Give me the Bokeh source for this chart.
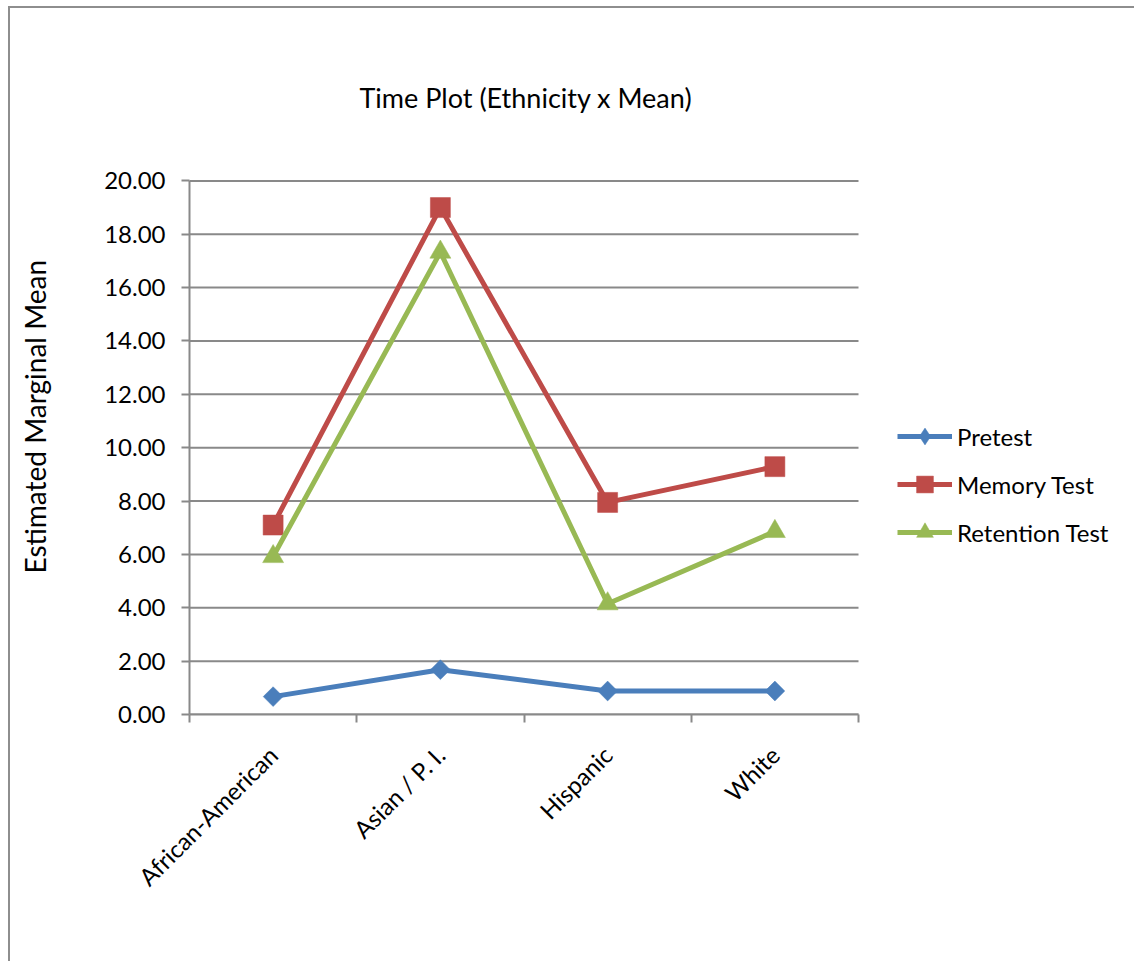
import math
from bokeh.plotting import figure
from bokeh.models import (Range1d, FixedTicker, PrintfTickFormatter, Legend, LegendItem,
                          Title, InlineStyleSheet)
from bokeh.embed import file_html
from bokeh.resources import INLINE

# Estimated marginal means by ethnicity for each test occasion
categories = ["African-American", "Asian / P. I.", "Hispanic", "White"]
pretest = [0.67, 1.68, 0.88, 0.88]
memory_test = [7.10, 19.00, 7.95, 9.29]
retention_test = [5.92, 17.33, 4.15, 6.86]
y_ticks = [0, 2, 4, 6, 8, 10, 12, 14, 16, 18, 20]

FONT = "Lato"
GRAY = "#898989"
BLUE = "#4a7ebb"
RED = "#be4b48"
GREEN = "#98b954"

# layout (page pixels): plot area starts 189 px from the left edge and spans 669 px for
# the categories; the frame keeps going to the right edge so the legend can sit beside it.
# The canvas is drawn a little wider and slid left so the y-axis title gets its room.
W, H = 1134, 961
LEFT, TOP, BOTTOM = 189, 178, 247
SHIFT = 51
CAT_W = 669
n = len(categories)
x_end = n * (W - LEFT) / CAT_W
y_max = y_ticks[-1]
y_end = y_max + 0.09   # a little headroom so the top gridline is not clipped

xs = [i + 0.5 for i in range(n)]

p = figure(width=W + SHIFT, height=H, output_backend="svg", toolbar_location=None,
           x_range=Range1d(0, x_end), y_range=Range1d(0, y_end),
           min_border_left=LEFT + SHIFT, min_border_right=0,
           min_border_top=TOP, min_border_bottom=BOTTOM,
           background_fill_color="white", border_fill_color="white")
p.outline_line_color = None

# slide the canvas and draw the thin frame around the whole chart area
p.stylesheets = [InlineStyleSheet(css=f"""
:host {{ position: relative; left: -{SHIFT}px; }}
:host::after {{
  content: ''; position: absolute; left: {SHIFT + 8}px; top: 6px; right: 0; bottom: 0;
  border-left: 2px solid #8e8e8e; border-top: 2px solid #8e8e8e;
  pointer-events: none;
}}
""")]

# chart title
p.title = Title(text="Time Plot (Ethnicity x Mean)", align="left", offset=170,
                text_font=FONT, text_font_size="27px", text_font_style="normal",
                text_color="black", standoff=130)

# horizontal gridlines limited to the category span
p.segment(x0=0, x1=n, y0=y_ticks, y1=y_ticks, line_color=GRAY, line_width=2, level="underlay")
p.xgrid.grid_line_color = None
p.ygrid.grid_line_color = None

# y axis
p.yaxis.bounds = (0, y_max)
p.yaxis.ticker = FixedTicker(ticks=y_ticks, minor_ticks=[])
p.yaxis.formatter = PrintfTickFormatter(format="%.2f")
p.yaxis.axis_line_color = GRAY
p.yaxis.axis_line_width = 2
p.yaxis.major_tick_line_color = GRAY
p.yaxis.major_tick_line_width = 2
p.yaxis.major_tick_in = 0
p.yaxis.major_tick_out = 8
p.yaxis.minor_tick_line_color = None
p.yaxis.major_label_standoff = 16
p.yaxis.major_label_text_font = FONT
p.yaxis.major_label_text_font_size = "24px"
p.yaxis.major_label_text_color = "black"

p.add_layout(Title(text="Estimated Marginal Mean", align="left", offset=141,
                   text_font=FONT, text_font_size="28px", text_font_style="normal",
                   text_color="black", standoff=100), "left")

# x axis: category labels centred, tick marks on category boundaries
p.xaxis.bounds = (0, n)
p.xaxis.ticker = FixedTicker(ticks=xs, minor_ticks=list(range(n + 1)))
p.xaxis.major_label_overrides = {x: c for x, c in zip(xs, categories)}
p.xaxis.axis_line_color = GRAY
p.xaxis.axis_line_width = 2
p.xaxis.major_tick_line_color = None
p.xaxis.major_tick_in = 0
p.xaxis.major_tick_out = 0
p.xaxis.minor_tick_line_color = GRAY
p.xaxis.minor_tick_line_width = 2
p.xaxis.minor_tick_in = 0
p.xaxis.minor_tick_out = 8
p.xaxis.major_label_orientation = math.pi / 4
p.xaxis.major_label_standoff = 28
p.xaxis.major_label_text_font = FONT
p.xaxis.major_label_text_font_size = "24px"
p.xaxis.major_label_text_color = "black"

# series: (name, values, colour, marker, size, angle, legend-key marker, key size)
series = [
    ("Pretest", pretest, BLUE, "square", 14, math.pi / 4, "diamond", 12),
    ("Memory Test", memory_test, RED, "square", 20, 0, "square", 14),
    ("Retention Test", retention_test, GREEN, "triangle", 21, 0, "triangle", 10),
]
items = []
for name, vals, color, marker, size, angle, key_marker, key_size in series:
    ln = p.line(xs, vals, line_color=color, line_width=5)
    # smaller key-shaped markers sit underneath the main markers; the legend draws these
    key = p.scatter(xs, vals, marker=key_marker, size=key_size,
                    fill_color=color, line_color=color, line_width=0.5)
    p.scatter(xs, vals, marker=marker, size=size, angle=angle,
              fill_color=color, line_color=color, line_width=0.5)
    items.append(LegendItem(label=name, renderers=[ln, key]))

legend = Legend(items=items, location=(708, 161), orientation="vertical",
                glyph_width=55, glyph_height=42, label_height=42, spacing=6,
                label_standoff=5, padding=0, margin=0,
                label_text_font=FONT, label_text_font_size="24px", label_text_color="black",
                border_line_color=None, background_fill_alpha=0)
p.add_layout(legend, "center")

open("out.html", "w").write(file_html(p, INLINE))
